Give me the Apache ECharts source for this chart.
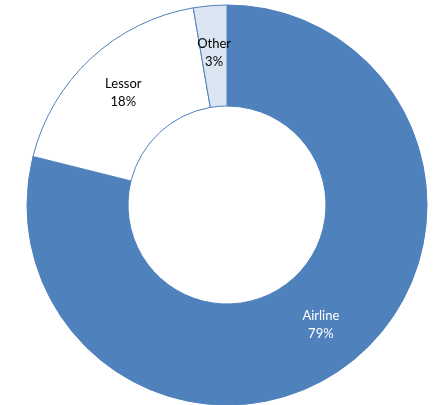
<!DOCTYPE html>
<html>
<head>
<meta charset="utf-8">
<script src="https://cdn.jsdelivr.net/npm/echarts@6/dist/echarts.min.js"></script>
<style>
html,body{margin:0;padding:0;background:#fff;}
#chart{width:434px;height:405px;}
</style>
</head>
<body>
<div id="chart"></div>
<script>
const categories = ["Airline", "Lessor", "Other"];
const values = [78.9, 18.4, 2.7];
const colors = ["#4F81BD", "#FFFFFF", "#DCE6F2"];
const labelColors = ["#FFFFFF", "#000000", "#000000"];

const chart = echarts.init(document.getElementById('chart'), null, {renderer: 'canvas'});
chart.setOption({
  animation: false,
  backgroundColor: '#ffffff',
  series: [{
    type: 'pie',
    center: [227, 205],
    radius: [99, 200],
    startAngle: 90,
    clockwise: true,
    avoidLabelOverlap: false,
    labelLine: {show: false},
    data: categories.map((c, i) => ({
      name: c,
      value: values[i],
      itemStyle: {color: colors[i], borderColor: '#4F81BD', borderWidth: 1},
      label: {color: labelColors[i]}
    })),
    label: {
      show: true,
      position: 'inside',
      fontFamily: 'Lato',
      fontSize: 13,
      lineHeight: 18,
      align: 'center',
      formatter: p => p.name + '\n' + Math.round(p.value) + '%'
    },
    emphasis: {disabled: true}
  }]
});
</script>
</body>
</html>
